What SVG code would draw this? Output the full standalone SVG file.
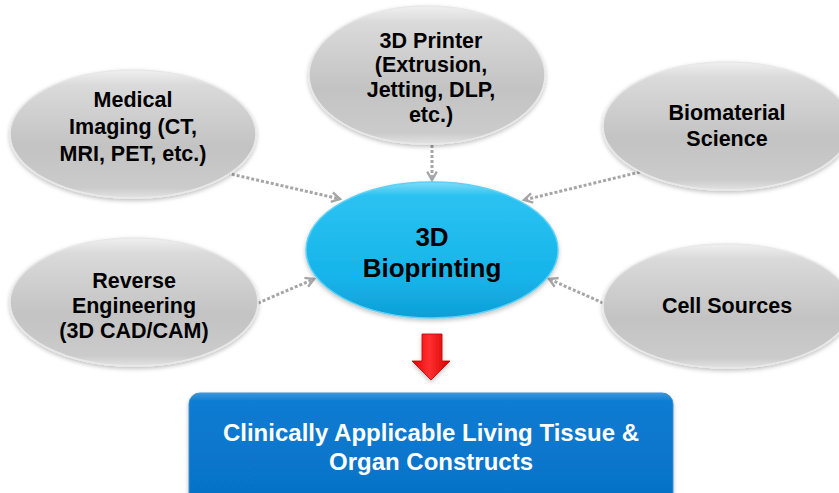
<svg xmlns="http://www.w3.org/2000/svg" width="839" height="493" viewBox="0 0 839 493">
<defs>
<linearGradient id="gGray" x1="0" y1="0" x2="0" y2="1">
<stop offset="0" stop-color="#f0f0f0"/>
<stop offset="0.12" stop-color="#dadada"/>
<stop offset="0.6" stop-color="#c3c3c3"/>
<stop offset="0.92" stop-color="#cbcbcb"/>
<stop offset="1" stop-color="#e2e2e2"/>
</linearGradient>
<linearGradient id="gBlue" x1="0" y1="0" x2="0" y2="1">
<stop offset="0" stop-color="#7fdcf8"/>
<stop offset="0.1" stop-color="#2cc2f2"/>
<stop offset="0.7" stop-color="#15b4ea"/>
<stop offset="1" stop-color="#0f9fd6"/>
</linearGradient>
<linearGradient id="gBox" x1="0" y1="0" x2="0" y2="1">
<stop offset="0" stop-color="#3a96dc"/>
<stop offset="0.08" stop-color="#087bd2"/>
<stop offset="1" stop-color="#0672c6"/>
</linearGradient>
<linearGradient id="gRed" x1="0" y1="0" x2="1" y2="0">
<stop offset="0" stop-color="#e00000"/>
<stop offset="0.45" stop-color="#ff3030"/>
<stop offset="1" stop-color="#d40000"/>
</linearGradient>
<filter id="sh" x="-10%" y="-10%" width="120%" height="130%">
<feDropShadow dx="0" dy="2" stdDeviation="2" flood-color="#000" flood-opacity="0.25"/>
</filter>
<marker id="arr" viewBox="0 0 10 10" refX="8" refY="5" markerWidth="4" markerHeight="4" orient="auto" markerUnits="strokeWidth">
<path d="M1,1 L8,5 L1,9" fill="none" stroke="#a6a6a6" stroke-width="2"/>
</marker>
</defs>
<style>
.gray{fill:url(#gGray);stroke:#e8e8e8;stroke-width:1.5;filter:url(#sh)}
.t{font-family:"Liberation Sans",Arial,sans-serif;font-weight:bold;font-size:21.5px;fill:#000;text-anchor:middle}
.c{fill:none;stroke:#a6a6a6;stroke-width:3;stroke-dasharray:3 2;marker-end:url(#arr)}
</style>
<rect width="839" height="493" fill="#fff"/>
<g id="connectors">
<line class="c" x1="222" y1="172" x2="340" y2="199"/>
<line class="c" x1="432" y1="145" x2="432" y2="180"/>
<line class="c" x1="640" y1="172" x2="524" y2="200"/>
<line class="c" x1="258" y1="303" x2="314" y2="279"/>
<line class="c" x1="603" y1="303" x2="549" y2="279"/>
</g>
<g id="medical-imaging">
<ellipse class="gray" cx="133" cy="134" rx="123" ry="64"/>
<text class="t" x="133" y="107">Medical</text>
<text class="t" x="133" y="134">Imaging (CT,</text>
<text class="t" x="133" y="161">MRI, PET, etc.)</text>
</g>
<g id="printer">
<ellipse class="gray" cx="427" cy="75" rx="118" ry="69"/>
<text class="t" x="431" y="48">3D Printer</text>
<text class="t" x="431" y="72">(Extrusion,</text>
<text class="t" x="431" y="97">Jetting, DLP,</text>
<text class="t" x="431" y="122">etc.)</text>
</g>
<g id="biomaterial">
<ellipse class="gray" cx="727" cy="126" rx="124" ry="64"/>
<text class="t" x="727" y="120">Biomaterial</text>
<text class="t" x="727" y="146">Science</text>
</g>
<g id="reverse-engineering">
<ellipse class="gray" cx="134" cy="302" rx="124" ry="64"/>
<text class="t" x="134" y="288">Reverse</text>
<text class="t" x="134" y="313">Engineering</text>
<text class="t" x="134" y="338">(3D CAD/CAM)</text>
</g>
<g id="cell-sources">
<ellipse class="gray" cx="727" cy="306" rx="124" ry="62"/>
<text class="t" x="727" y="313">Cell Sources</text>
</g>
<g id="bioprinting">
<ellipse cx="432" cy="250" rx="126" ry="68" fill="url(#gBlue)" stroke="#5cd0f5" stroke-width="1.5" filter="url(#sh)"/>
<text class="t" x="432" y="246" style="font-size:26px">3D</text>
<text class="t" x="432" y="277" style="font-size:26px">Bioprinting</text>
</g>
<g id="down-arrow">
<path d="M422,334 L442,334 L442,361 L450,361 L431,380 L412,361 L422,361 Z" fill="url(#gRed)" stroke="#c00000" stroke-width="0.8" filter="url(#sh)"/>
</g>
<g id="result">
<rect x="189" y="393" width="484" height="112" rx="11" fill="url(#gBox)" stroke="#3f8fd0" stroke-width="1" filter="url(#sh)"/>
<text class="t" x="431" y="441" style="font-size:24px;fill:#fff">Clinically Applicable Living Tissue &amp;</text>
<text class="t" x="431" y="470" style="font-size:24px;fill:#fff">Organ Constructs</text>
</g>
</svg>
